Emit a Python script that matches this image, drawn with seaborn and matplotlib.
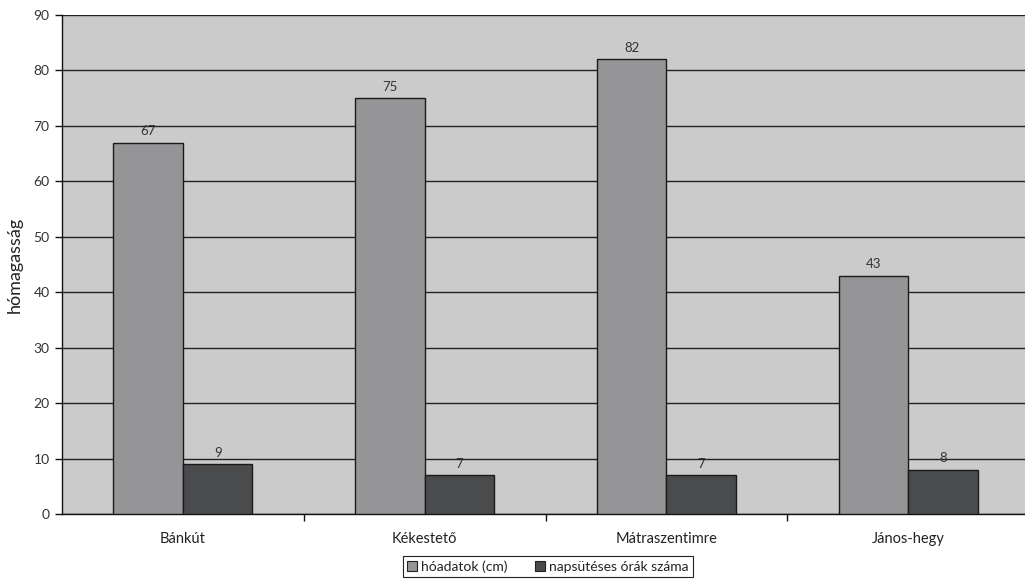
import matplotlib
matplotlib.use("Agg")
import matplotlib.pyplot as plt
import seaborn as sns
import pandas as pd
from matplotlib.patches import Patch

# Data
locations = ["Bánkút", "Kékestető", "Mátraszentimre", "János-hegy"]
snow_cm = [67, 75, 82, 43]
sunny_hours = [9, 7, 7, 8]
series_names = ["hóadatok (cm)", "napsütéses órák száma"]
y_ticks = [0, 10, 20, 30, 40, 50, 60, 70, 80, 90]

df = pd.DataFrame({
    "hely": locations * 2,
    "érték": snow_cm + sunny_hours,
    "sorozat": [series_names[0]] * len(locations) + [series_names[1]] * len(locations),
})

sns.set_theme(style="white")
plt.rcParams["font.family"] = ["Lato", "DejaVu Sans"]

colors = ["#959598", "#4a4b4d"]

fig = plt.figure(figsize=(10.25, 5.79), dpi=100)
ax = fig.add_axes([62 / 1025, 65 / 579, 967 / 1025, 499 / 579])
ax.set_facecolor("#cbcbcc")

sns.barplot(data=df, x="hely", y="érték", hue="sorozat", palette=colors,
            width=0.575, gap=0, edgecolor="#1a1a1a", linewidth=1.0,
            saturation=1, legend=False, ax=ax, zorder=3)

for container in ax.containers:
    ax.bar_label(container, padding=4, fontsize=9.5, color="#333333")

ax.set_ylim(0, 90)
ax.set_xlim(-0.5, 3.5)
ax.set_yticks(y_ticks)
ax.yaxis.grid(True, color="#222222", linewidth=1.0, zorder=0)
ax.set_axisbelow(True)

ax.set_xlabel("")
ax.set_ylabel("hómagasság", fontsize=13, color="#222222", labelpad=8)

for side in ["top", "right"]:
    ax.spines[side].set_visible(False)
ax.spines["left"].set_color("#111111")
ax.spines["bottom"].set_color("#111111")
ax.spines["left"].set_linewidth(1.0)
ax.spines["bottom"].set_linewidth(1.0)

ax.tick_params(axis="y", left=True, length=5, width=1, color="#111111",
               labelsize=10, labelcolor="#333333", pad=4)
ax.tick_params(axis="x", bottom=False, labelsize=10.5, labelcolor="#222222", pad=7)
ax.set_xticks([0.5, 1.5, 2.5], minor=True)
ax.tick_params(axis="x", which="minor", bottom=True, length=5, width=1, color="#111111")

handles = [Patch(facecolor=c, edgecolor="#222222", linewidth=0.8) for c in colors]
leg = fig.legend(handles, series_names, loc="upper left",
                 bbox_to_anchor=(403 / 1025, 1 - 556 / 579), ncol=2,
                 fontsize=10, frameon=True, fancybox=False, framealpha=1,
                 edgecolor="#222222", handlelength=0.7, handleheight=0.7,
                 handletextpad=0.3, columnspacing=2.0, borderpad=0.3,
                 borderaxespad=0)
leg.get_frame().set_linewidth(0.8)
for t in leg.get_texts():
    t.set_color("#222222")

fig.savefig("out.png", dpi=100)
